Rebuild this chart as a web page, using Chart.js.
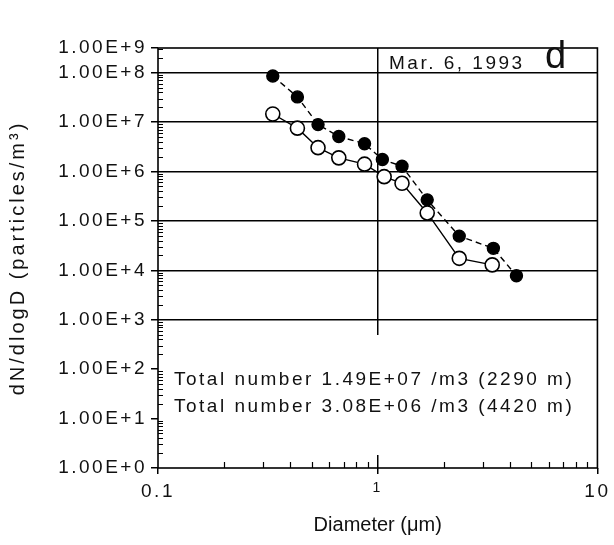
<!DOCTYPE html>
<html>
<head>
<meta charset="utf-8">
<script src="https://cdn.jsdelivr.net/npm/chart.js@4/dist/chart.umd.min.js"></script>
<style>
  body { margin: 0; background: #fff; }
  #wrap { width: 614px; height: 545px; }
</style>
</head>
<body>
<div id="wrap"><canvas id="chart" width="614" height="545"></canvas></div>
<script>
// size distribution (diameter in um, dN/dlogD in particles/m3)
var diam2290 = [0.333, 0.431, 0.535, 0.665, 0.871, 1.05, 1.29, 1.68, 2.35, 3.36, 4.28];
var count2290 = [8.55e7, 3.24e7, 8.9e6, 5.1e6, 3.66e6, 1.75e6, 1.28e6, 2.67e5, 4.93e4, 2.79e4, 7.8e3];
var diam4420 = [0.333, 0.431, 0.535, 0.665, 0.871, 1.07, 1.29, 1.68, 2.35, 3.32];
var count4420 = [1.46e7, 7.55e6, 3.04e6, 1.89e6, 1.41e6, 7.87e5, 5.78e5, 1.45e5, 1.75e4, 1.29e4];

var xTicks = [0.1, 1, 10];
var yTicks = [1, 10, 100, 1e3, 1e4, 1e5, 1e6, 1e7, 1e8];
var yTop = Math.pow(10, 8.5);   // top of the frame, labelled 1.00E+9 in the original
var topLabel = '1.00E+9';
var noteLines = ['Total number 1.49E+07 /m3 (2290 m)', 'Total number 3.08E+06 /m3 (4420 m)'];
var dateText = 'Mar. 6, 1993';
var panelText = 'd';

var FONT = "'Liberation Sans', Arial, Helvetica, sans-serif";
var SPACING = '2.5px';
var titleSpacing = {x: '0px', y: '3px'};

function toPoints(xs, ys) {
    return xs.map(function (x, i) { return {x: x, y: ys[i]}; });
}

// frame, inward minor ticks, text box and notes
var decorations = {
    id: 'decorations',
    beforeDraw: function (chart) {
        chart.ctx.letterSpacing = SPACING;
        // axis titles get their own letter spacing
        Object.keys(chart.scales).forEach(function (id) {
            var s = chart.scales[id];
            if (s._spacingWrapped) return;
            var orig = s.drawTitle;
            s.drawTitle = function () {
                var c = this.ctx, prev = c.letterSpacing;
                c.letterSpacing = titleSpacing[id] || SPACING;
                orig.apply(this, arguments);
                c.letterSpacing = prev;
            };
            s._spacingWrapped = true;
        });
    },
    beforeDatasetsDraw: function (chart) {
        var ctx = chart.ctx, a = chart.chartArea;
        var xs = chart.scales.x, ys = chart.scales.y;
        ctx.save();
        // white patch behind the notes (hides the vertical grid line there)
        ctx.fillStyle = '#fff';
        ctx.fillRect(a.left + 2, a.bottom - 133, a.right - a.left - 4, 120);

        ctx.strokeStyle = '#000';
        ctx.lineWidth = 1.2;
        ctx.beginPath();
        // minor ticks on the left axis
        for (var d = 0; d <= 8; d++) {
            for (var k = 2; k <= 9; k++) {
                var v = k * Math.pow(10, d);
                if (v > yTop) break;
                var py = Math.round(ys.getPixelForValue(v)) + 0.5;
                ctx.moveTo(a.left, py);
                ctx.lineTo(a.left + 5, py);
            }
        }
        // minor ticks on the bottom axis
        [0.1, 1].forEach(function (dec) {
            for (var k = 2; k <= 9; k++) {
                var px = Math.round(xs.getPixelForValue(k * dec)) + 0.5;
                ctx.moveTo(px, a.bottom);
                ctx.lineTo(px, a.bottom - 6);
            }
        });
        ctx.stroke();

        // frame
        ctx.lineWidth = 1.6;
        ctx.strokeRect(a.left, a.top, a.right - a.left, a.bottom - a.top);
        ctx.restore();
    },
    afterDraw: function (chart) {
        var ctx = chart.ctx, a = chart.chartArea;
        ctx.save();
        ctx.fillStyle = '#111';
        ctx.textBaseline = 'alphabetic';
        ctx.textAlign = 'left';
        ctx.letterSpacing = SPACING;
        ctx.font = '19px ' + FONT;
        ctx.fillText(noteLines[0], a.left + 16, a.bottom - 83);
        ctx.fillText(noteLines[1], a.left + 16, a.bottom - 56);
        ctx.fillText(dateText, a.left + 231, a.top + 21);
        ctx.letterSpacing = '0px';
        ctx.font = '300 38px ' + FONT;
        ctx.fillText(panelText, a.left + 387, a.top + 20);
        ctx.restore();
        chart.ctx.letterSpacing = '0px';
    }
};

var ctx = document.getElementById('chart').getContext('2d');
var chart = new Chart(ctx, {
    type: 'scatter',
    data: {
        datasets: [{
            label: '4420 m',
            data: toPoints(diam4420, count4420),
            showLine: true,
            borderColor: '#000',
            borderWidth: 1.4,
            backgroundColor: '#fff',
            pointBackgroundColor: '#fff',
            pointBorderColor: '#000',
            pointBorderWidth: 1.6,
            pointRadius: 7,
            order: 1
        }, {
            label: '2290 m',
            data: toPoints(diam2290, count2290),
            showLine: true,
            borderColor: '#000',
            borderWidth: 1.4,
            borderDash: [6, 4],
            backgroundColor: '#000',
            pointBackgroundColor: '#000',
            pointBorderColor: '#000',
            pointRadius: 6,
            order: 2
        }]
    },
    options: {
        responsive: false,
        animation: false,
        layout: {padding: {top: 48, right: 13, left: 0, bottom: 0}},
        plugins: {
            legend: {display: false},
            tooltip: {enabled: false}
        },
        scales: {
            x: {
                type: 'logarithmic',
                min: 0.1,
                max: 10,
                afterBuildTicks: function (scale) {
                    scale.ticks = xTicks.map(function (v) { return {value: v}; });
                },
                afterFit: function (scale) { scale.height = 77; },
                border: {display: false},
                grid: {
                    color: function (c) { return c.tick && c.tick.value === 1 ? '#000' : 'rgba(0,0,0,0)'; },
                    tickColor: '#000',
                    lineWidth: 1.5,
                    tickLength: 6
                },
                ticks: {
                    color: '#111',
                    padding: 6,
                    maxRotation: 0,
                    autoSkip: false,
                    font: function (c) {
                        return (c.tick && c.tick.value === 1) ? {family: FONT, size: 14} : {family: FONT, size: 19};
                    },
                    callback: function (v) { return String(v); }
                },
                title: {
                    display: true,
                    text: 'Diameter (\u03bcm)',
                    color: '#111',
                    font: {family: FONT, size: 20},
                    padding: {top: 0, bottom: 8}
                }
            },
            y: {
                type: 'logarithmic',
                min: 1,
                max: yTop,
                afterBuildTicks: function (scale) {
                    scale.ticks = yTicks.concat([yTop]).map(function (v) { return {value: v}; });
                },
                afterFit: function (scale) { scale.width = 158; },
                border: {display: false},
                grid: {
                    color: function (c) {
                        var v = c.tick && c.tick.value;
                        return (v >= 1e3 && v <= 1e8) ? '#000' : 'rgba(0,0,0,0)';
                    },
                    tickColor: '#000',
                    lineWidth: 1.5,
                    tickLength: 7
                },
                ticks: {
                    color: '#111',
                    padding: 4,
                    autoSkip: false,
                    font: {family: FONT, size: 19},
                    callback: function (v) {
                        if (v >= yTop * 0.99) return topLabel;
                        return '1.00E+' + Math.round(Math.log10(v));
                    }
                },
                title: {
                    display: true,
                    text: 'dN/dlogD (particles/m\u00b3)',
                    color: '#111',
                    font: {family: FONT, size: 20},
                    padding: {top: 6, bottom: 0}
                }
            }
        }
    },
    plugins: [decorations]
});
</script>
</body>
</html>
